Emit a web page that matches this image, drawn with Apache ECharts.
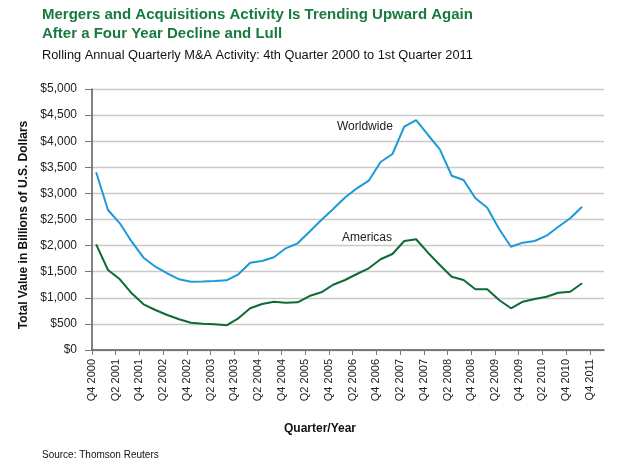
<!DOCTYPE html>
<html><head><meta charset="utf-8">
<script src="https://cdn.jsdelivr.net/npm/echarts@6/dist/echarts.min.js"></script>
<style>html,body{margin:0;padding:0;background:#fff}#c{width:620px;height:467px}</style>
</head><body><div id="c"></div>
<script>
const quarters = ['Q4 2000','Q1 2001','Q2 2001','Q3 2001','Q4 2001','Q1 2002','Q2 2002','Q3 2002','Q4 2002',
  'Q1 2003','Q2 2003','Q3 2003','Q4 2003','Q1 2004','Q2 2004','Q3 2004','Q4 2004','Q1 2005','Q2 2005','Q3 2005','Q4 2005',
  'Q1 2006','Q2 2006','Q3 2006','Q4 2006','Q1 2007','Q2 2007','Q3 2007','Q4 2007','Q1 2008','Q2 2008','Q3 2008','Q4 2008',
  'Q1 2009','Q2 2009','Q3 2009','Q4 2009','Q1 2010','Q2 2010','Q3 2010','Q4 2010','Q1 2011'];
const worldwide = [3404,2682,2427,2075,1768,1596,1469,1354,1308,1310,1320,1335,1450,1672,1705,1776,1948,2044,2267,2490,2700,
  2920,3098,3244,3602,3755,4278,4406,4119,3845,3339,3257,2906,2726,2318,1979,2056,2088,2190,2362,2523,2745];
const americas = [2025,1533,1354,1086,875,766,670,588,523,505,495,473,607,799,881,925,906,914,1034,1105,1250,
  1341,1456,1565,1738,1839,2088,2121,1864,1628,1404,1341,1163,1163,958,799,925,977,1021,1098,1117,1278];
const tickLabels = ['Q4 2000','Q2 2001','Q4 2001','Q2 2002','Q4 2002','Q2 2003','Q4 2003','Q2 2004','Q4 2004','Q2 2005','Q4 2005',
  'Q2 2006','Q4 2006','Q2 2007','Q4 2007','Q2 2008','Q4 2008','Q2 2009','Q4 2009','Q2 2010','Q4 2010','Q4 2011'];
const yTicks = [0,500,1000,1500,2000,2500,3000,3500,4000,4500,5000];

const FONT = 'Liberation Sans, Arial, Helvetica, sans-serif';
const OFFSET = 0.35;
const tickValues = tickLabels.map((_, k) => k * 2);
const toPts = arr => arr.map((v, i) => [i + OFFSET, v]);

const chart = echarts.init(document.getElementById('c'), null, {renderer: 'canvas'});
chart.setOption({
  animation: false,
  backgroundColor: '#ffffff',
  textStyle: {fontFamily: FONT},
  grid: {left: 92, right: 16, top: 89, bottom: 117, containLabel: false},
  xAxis: {
    type: 'value', min: 0, max: 43.2,
    axisLine: {show: true, lineStyle: {color: '#595959', width: 1.5}},
    axisTick: {show: true, inside: false, length: 5, customValues: tickValues, lineStyle: {color: '#777'}},
    axisLabel: {
      customValues: tickValues, rotate: 90, margin: 9, fontSize: 11, color: '#222', fontFamily: FONT,
      formatter: v => tickLabels[Math.round(v / 2)] || ''
    },
    splitLine: {show: false}
  },
  yAxis: {
    type: 'value', min: 0, max: 5000, interval: 500,
    axisLine: {show: true, lineStyle: {color: '#595959', width: 1.5}},
    axisTick: {show: true, inside: false, length: 7, lineStyle: {color: '#777'}},
    axisLabel: {margin: 15, fontSize: 12, color: '#222', fontFamily: FONT,
      formatter: v => '$' + v.toLocaleString('en-US')},
    splitLine: {show: true, lineStyle: {color: '#cacaca', width: 1.3}}
  },
  series: [
    {name: 'Worldwide', type: 'line', data: toPts(worldwide), symbol: 'none',
      lineStyle: {color: '#1b9ad6', width: 2}, itemStyle: {color: '#1b9ad6'}},
    {name: 'Americas', type: 'line', data: toPts(americas), symbol: 'none',
      lineStyle: {color: '#0d6b36', width: 2}, itemStyle: {color: '#0d6b36'}}
  ],
  graphic: [
    {type: 'text', x: 42, y: 15, style: {text: 'Mergers and Acquisitions Activity Is Trending Upward Again',
      font: 'bold 15px ' + FONT, fill: '#197a3e', align: 'left', verticalAlign: 'middle'}},
    {type: 'text', x: 42, y: 34, style: {text: 'After a Four Year Decline and Lull',
      font: 'bold 15px ' + FONT, fill: '#197a3e', align: 'left', verticalAlign: 'middle'}},
    {type: 'text', x: 42, y: 55, style: {text: 'Rolling Annual Quarterly M&A Activity: 4th Quarter 2000 to 1st Quarter 2011',
      font: '12.8px ' + FONT, fill: '#111', align: 'left', verticalAlign: 'middle'}},
    {type: 'text', x: 24, y: 225, rotation: Math.PI / 2, style: {text: 'Total Value in Billions of U.S. Dollars',
      font: 'bold 12px ' + FONT, fill: '#111', align: 'center', verticalAlign: 'middle'}},
    {type: 'text', x: 320, y: 429, style: {text: 'Quarter/Year', font: 'bold 12px ' + FONT, fill: '#111',
      align: 'center', verticalAlign: 'middle'}},
    {type: 'text', left: 42, top: 450, style: {text: 'Source: Thomson Reuters', font: '10px ' + FONT, fill: '#111'}},
    {type: 'text', x: 337, y: 127, style: {text: 'Worldwide', font: '12px ' + FONT, fill: '#222',
      align: 'left', verticalAlign: 'middle'}},
    {type: 'text', x: 342, y: 238, style: {text: 'Americas', font: '12px ' + FONT, fill: '#222',
      align: 'left', verticalAlign: 'middle'}}
  ]
});
</script>
</body></html>
